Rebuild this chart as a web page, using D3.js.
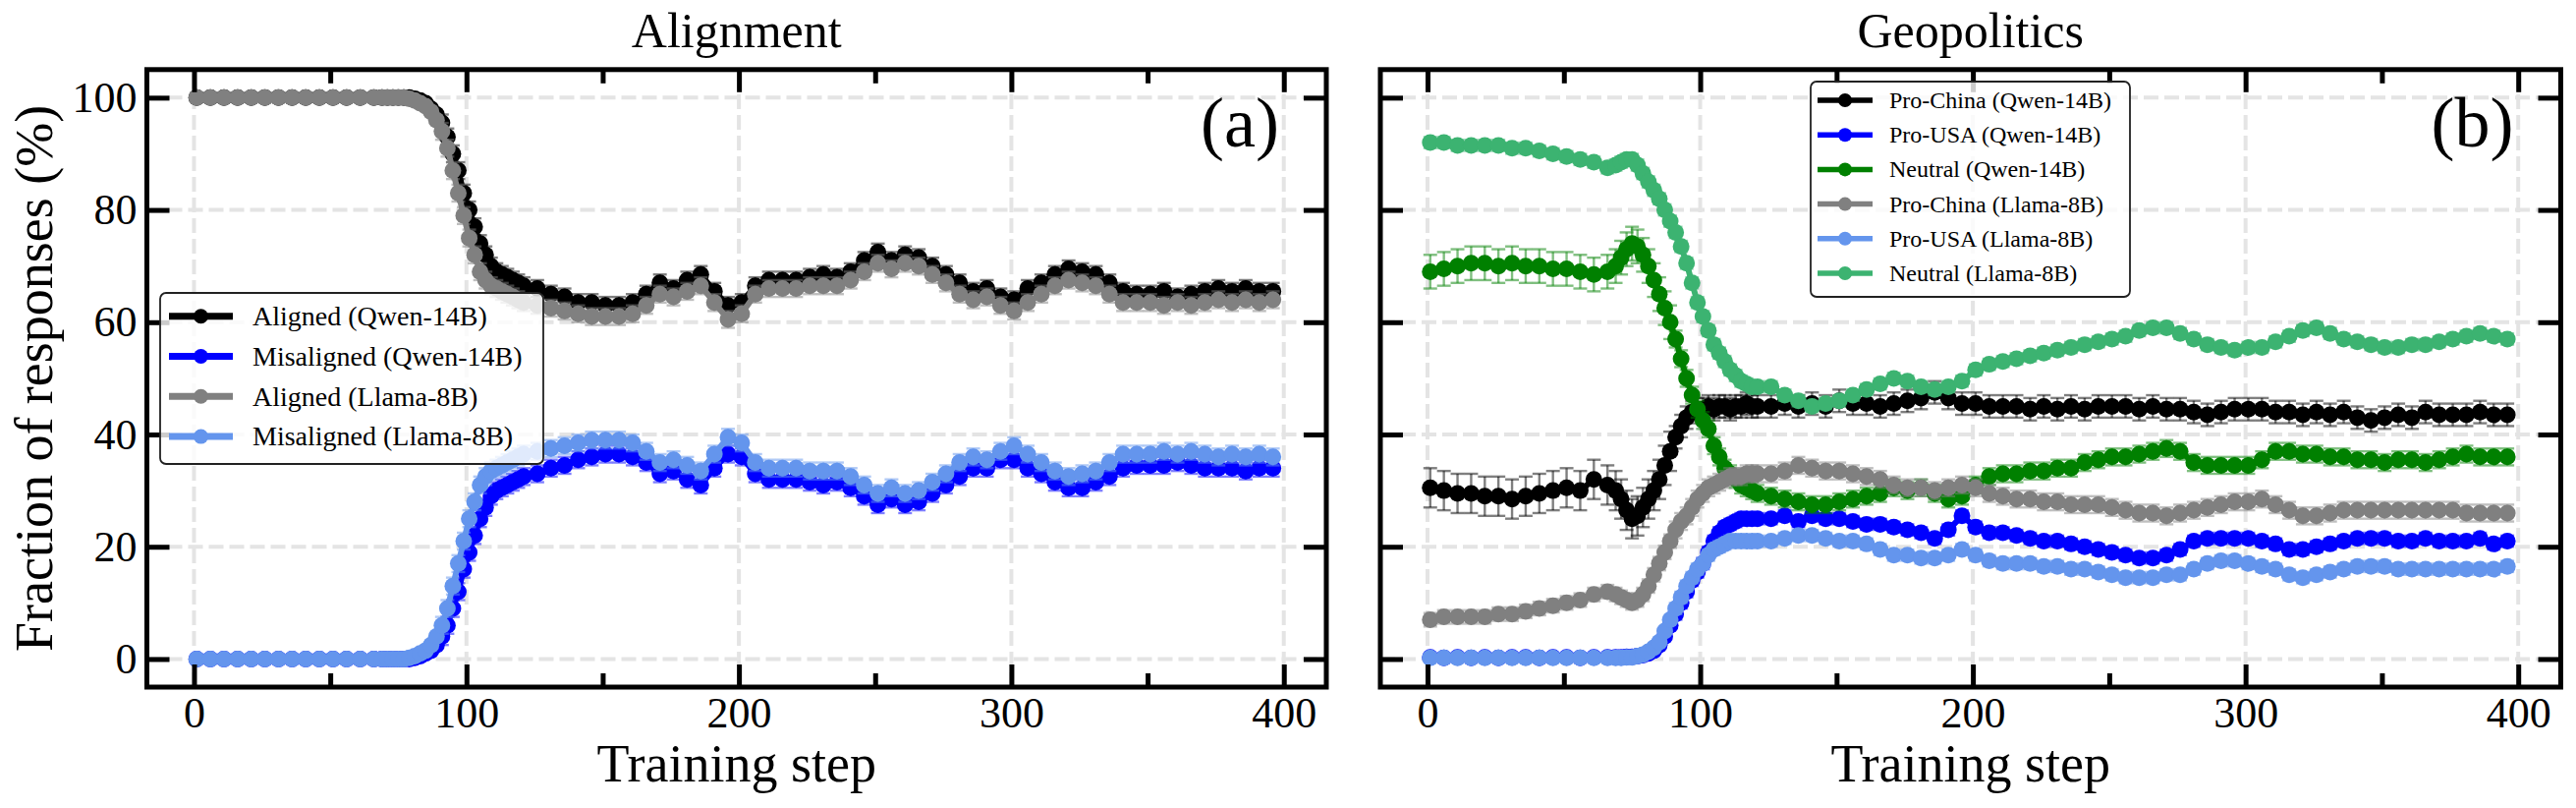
<!DOCTYPE html>
<html>
<head>
<meta charset="utf-8">
<script src="https://cdn.jsdelivr.net/npm/d3@7"></script>
<style>
  body { margin: 0; background: #fff; }
  text { font-family: "Liberation Serif", "Times New Roman", serif; fill: #000; }
</style>
</head>
<body>
<svg id="chart" width="2622" height="822" font-family="Liberation Serif, Times New Roman, serif"></svg>
<script>
// training steps at which values were read (denser through the transition)
var steps = [1,6,11,16,21,26,31,36,41,46,51,56,61,66,
  69,71,73,75,77,79,81,83,85,87,89,91,93,95,97,99,101,103,105,107,109,111,113,115,117,119,121,
  126,131,136,141,146,151,156,161,166,171,
  176,181,186,191,196,201,206,211,216,221,
  226,231,236,241,246,251,256,261,266,271,
  276,281,286,291,296,301,306,311,316,321,
  326,331,336,341,346,351,356,361,366,371,
  376,381,386,391,396];

// ---- panel (a) Alignment ----
var alignedQwen = [100,100,100,100,100,100,100,100,100,100,100,100,100,100,
  100,100,100,100,100,100,99.8,99.5,99,98,97,95.5,93,90,87,83,80,77,74,72,70,69,68.5,68,67.5,67,66.5,
  66,65,64.5,63.5,63.5,63,63,63.5,65,67,
  66,67.5,68.5,65.5,63,63.5,66.5,67.5,67.5,67.5,
  68,68.5,68,69,71,72.5,71,72,71.5,70,
  68.5,67,65.5,66,64.5,64,66,67,68.5,69.5,
  69,68.5,67,65.5,65,65,65.5,64.5,65,65.5,
  66,65.5,66,65.5,65.5];
var misalignedQwen = [0,0,0,0,0,0,0,0,0,0,0,0,0,0,
  0,0,0,0,0,0,0.2,0.5,1,1.5,2.5,4,6,9,12,16,19,22,25,27,29,30,30.5,31,31.5,32,32.5,
  33,34,34.5,35.5,36,36.5,36.5,36,35,33,
  33.5,32,31,34,36.5,36,33,32,32,32,
  31.5,31,31.5,30.5,29,27.5,28.5,27.5,28,29.5,
  31,32.5,34,34,35.5,35.5,34,33,31.5,30.5,
  30.5,31.5,32.5,34,34.5,34.5,34.5,35,34.5,34,
  34,34,33.5,34,34];
var alignedLlama = [100,100,100,100,100,100,100,100,100,100,100,100,100,100,
  100,100,100,100,100,99.8,99.5,99,98.5,97.5,96,94,91,87,83,79,75,72,69,67.5,66.5,66,65.5,65,64.5,64,63.5,
  63,62.5,62,61.5,61,61,61,61.5,63,65,
  64.5,65.5,66.5,63.5,60.5,61.5,65,66,66,66,
  66.5,66.5,66.5,67.5,69,70.5,69.5,70.5,70,68.5,
  67,65,64,64.5,63,62,63.5,65,66.5,67.5,
  67,66.5,65,63.5,63.5,63.5,63,63.5,63,63.5,
  64,63.5,64,63.5,64];
var misalignedLlama = [0,0,0,0,0,0,0,0,0,0,0,0,0,0,
  0,0,0,0,0,0.2,0.5,1,1.5,2.5,4,6,9,13,17,21,25,28,31,32.5,33.5,34,34.5,35,35.5,36,36.5,
  37,37.5,38,38.5,39,39,39,38.5,37,35,
  35.5,34.5,33.5,36.5,39.5,38.5,35,34,34,34,
  33.5,33.5,33.5,32.5,31,29.5,30.5,29.5,30,31.5,
  33,35,36,35.5,37,38,36.5,35,33.5,32.5,
  33,33.5,35,36.5,36.5,36.5,37,36.5,37,36.5,
  36,36.5,36,36.5,36];

// ---- panel (b) Geopolitics ----
var proChinaQwen = [30.5,30,29.5,29.5,29,29,28.5,29,29.5,30,30.5,30,32,31,
  30,28.5,26.5,25,25.5,27,28.5,30,32,34.5,37,39.5,41.5,43,44,44.5,44.5,45,44.5,45,45,44.5,45,45,45.5,45,45,
  45,45.5,45,45.5,45,46,45.5,45.5,45,45.5,
  46,46.5,47.5,46.5,45.5,45.5,45,45,45,44.5,
  45,44.5,45,44.5,45,45,45,44.5,45,44.5,
  44.5,44,43.5,44,44.5,44.5,44.5,44,44,43.5,
  44,43.5,44,43,42.5,43,43.5,43,44,43.5,
  43.5,43.5,44,43.5,43.5];
var proUSAQwen = [0.3,0.2,0.3,0.2,0.3,0.2,0.3,0.3,0.2,0.3,0.3,0.2,0.3,0.3,
  0.3,0.3,0.4,0.4,0.5,0.7,1,1.5,2.5,4,6,8,10,12,14,15.5,17,19,21,22.5,23.5,24,24.5,25,25,25,25,
  25,25.5,24.5,25.5,25,25,24.5,24,24,23.5,
  23,22.5,21.5,23,25.5,23.5,22.5,22.5,22,21.5,
  21,21,20.5,20,19.5,19,18.5,18,18,18.5,
  19.5,21,21.5,21.5,21.5,21.5,21,20.5,19.5,19.5,
  20,20.5,21,21.5,21.5,21.5,21,21,21.5,21,
  21,21,21.5,20.5,21];
var neutralQwen = [69,69.5,70,70.5,70.5,70,70.5,70,70,69.5,69.5,69,68.5,69,
  70,71.5,73,74,73.5,72,70,67.5,65,62.5,60,57,53.5,50,47,44.5,42.5,41,38,36,34,33,32,31,30.5,30,29.5,
  29,28.5,28,27.5,27.5,28,28.5,29,29.5,30.5,
  30,30.5,29.5,28.5,29,31,32.5,33,33,33.5,
  33.5,34,34,35,35.5,36,36,36.5,37,37.5,
  37,35,34.5,34.5,34.5,34.5,35.5,37,37,36.5,
  36.5,36,36,35.5,35.5,35,35.5,35.5,35,35.5,
  36,36.5,36,36,36];
var proChinaLlama = [7,7.5,7.5,7.5,7.5,8,8,8.5,9,9.5,10,10.5,11.5,12,
  11.5,11,10.5,10,10.5,11.5,13,15,17,19,21,23,24.5,25.5,27,28.5,29.5,30.5,31,31.5,32,32.5,32.5,32.5,33,33,33,
  33,33.5,34.5,34,33.5,33.5,33,32.5,32,31,
  30.5,30.5,30,30.5,31,30.5,29.5,29,28.5,28.5,
  28,28,27.5,27.5,27.5,27,26.5,26,26,25.5,
  26,26.5,27,27.5,28,28,28.5,27.5,26.5,25.5,
  25.5,26,26.5,26.5,26.5,26.5,26.5,26.5,26.5,26.5,
  26.5,26,26,26,26];
var proUSALlama = [0.2,0.2,0.2,0.2,0.2,0.2,0.2,0.2,0.2,0.2,0.2,0.2,0.2,0.2,
  0.2,0.2,0.3,0.3,0.5,0.8,1.3,2,3,5,7,9,11,13,14.5,16,17,18.5,19.5,20,20.5,21,21,21,21,21,21,
  21,21.5,22,22,21.5,21,21,20.5,19.5,18.5,
  18.5,18,18,18.5,19.5,18.5,17.5,17,17,17,
  16.5,16.5,16,16,15.5,15,14.5,14.5,14.5,15,
  15,16,17,17.5,17.5,17,16.5,16,15,14.5,
  15,15.5,16,16.5,16.5,16.5,16,16,16,16,
  16,16,16,16,16.5];
var neutralLlama = [92,92,91.5,91.5,91.5,91.5,91,91,90.5,90,89.5,89,88.5,87.5,
  88,88.5,89,89,88,86.5,85,83.5,82,80,78,76,73.5,70.5,67,63.5,61,58.5,56,54.5,53,51.5,50.5,49.5,49,48.5,48.5,
  48.5,47,46,45,45.5,46,47,48,49,50,
  49.5,48.5,48,48.5,49.5,51.5,52.5,53,53.5,54,
  54.5,55,55.5,56,56.5,57,57.5,58.5,59,59,
  58,57,56,55.5,55,55.5,55.5,56.5,57.5,58.5,
  59,58,57,56.5,56,55.5,55.5,56,56,56.5,
  57,57.5,58,57.5,57];

// error half-widths (before / after the transition step)
var errSplit = 90;
var alignErrEarly = [0.3, 0.3, 0.3, 0.3];
var alignErrLate = [1.5, 1.5, 1.5, 1.5];
var geoErrEarly = [3.5, 0.4, 3, 1.2, 0.3, 1];
var geoErrLate = [2, 1, 1.5, 1.5, 1, 1];

var alignLabels = ["Aligned (Qwen-14B)", "Misaligned (Qwen-14B)", "Aligned (Llama-8B)", "Misaligned (Llama-8B)"];
var alignColors = ["#000000", "#0000ff", "#808080", "#6495ed"];
var geoLabels = ["Pro-China (Qwen-14B)", "Pro-USA (Qwen-14B)", "Neutral (Qwen-14B)",
  "Pro-China (Llama-8B)", "Pro-USA (Llama-8B)", "Neutral (Llama-8B)"];
var geoColors = ["#000000", "#0000ff", "#008000", "#808080", "#6495ed", "#3cb371"];

var xMajor = [0, 100, 200, 300, 400];
var xMinor = [50, 150, 250, 350];
var yMajor = [0, 20, 40, 60, 80, 100];

var panels = [
  { title: "Alignment", tag: "(a)", x0: 149.5, x1: 1350, yLabels: true,
    series: [alignedQwen, misalignedQwen, alignedLlama, misalignedLlama],
    labels: alignLabels, colors: alignColors, errEarly: alignErrEarly, errLate: alignErrLate,
    legend: { x: 163, y: 298, w: 390, h: 174, row0: 321.7, rowStep: 40.8, lx0: 172, lx1: 237, tx: 257, fs: 28, lw: 7, r: 7.5 } },
  { title: "Geopolitics", tag: "(b)", x0: 1405, x1: 2606.5, yLabels: false,
    series: [proChinaQwen, proUSAQwen, neutralQwen, proChinaLlama, proUSALlama, neutralLlama],
    labels: geoLabels, colors: geoColors, errEarly: geoErrEarly, errLate: geoErrLate,
    legend: { x: 1843, y: 83, w: 325, h: 219, row0: 102, rowStep: 35.2, lx0: 1850, lx1: 1906, tx: 1923, fs: 24, lw: 5.5, r: 7 } }
];

var svg = d3.select("#chart");
var yTop = 70.8, yBot = 699;
var y = d3.scaleLinear().domain([-5, 105]).range([yBot, yTop]);

function drawPanel(p) {
  var x = d3.scaleLinear().domain([-17.3, 415.6]).range([p.x0, p.x1]);
  var g = svg.append("g");

  // dashed grid
  var grid = g.append("g").attr("stroke", "#e4e4e4").attr("stroke-width", 4).attr("stroke-dasharray", "15 6");
  grid.selectAll(".gx").data(xMajor).enter().append("line")
    .attr("x1", x).attr("x2", x).attr("y1", yBot).attr("y2", yTop);
  grid.selectAll(".gy").data(yMajor).enter().append("line")
    .attr("x1", p.x0).attr("x2", p.x1).attr("y1", y).attr("y2", y);

  // series: error bars, line, markers
  p.series.forEach(function(vals, i) {
    var col = p.colors[i];
    var pts = steps.map(function(st, k) {
      return { s: st, v: vals[k], e: st < errSplit ? p.errEarly[i] : p.errLate[i] };
    });
    var sg = g.append("g");
    var eb = sg.append("g").attr("stroke", col).attr("stroke-opacity", 0.5).attr("stroke-width", 2.4);
    eb.selectAll("line.v").data(pts).enter().append("line")
      .attr("x1", function(d) { return x(d.s); }).attr("x2", function(d) { return x(d.s); })
      .attr("y1", function(d) { return y(d.v - d.e); }).attr("y2", function(d) { return y(d.v + d.e); });
    [1, -1].forEach(function(sign) {
      eb.selectAll("line.c" + sign).data(pts).enter().append("line")
        .attr("x1", function(d) { return x(d.s) - 7; }).attr("x2", function(d) { return x(d.s) + 7; })
        .attr("y1", function(d) { return y(d.v + sign * d.e); }).attr("y2", function(d) { return y(d.v + sign * d.e); });
    });
    sg.append("path").datum(pts)
      .attr("fill", "none").attr("stroke", col).attr("stroke-width", 6)
      .attr("stroke-linejoin", "round")
      .attr("d", d3.line().x(function(d) { return x(d.s); }).y(function(d) { return y(d.v); }));
    sg.selectAll("circle").data(pts).enter().append("circle")
      .attr("cx", function(d) { return x(d.s); }).attr("cy", function(d) { return y(d.v); })
      .attr("r", 8.5).attr("fill", col);
  });

  // ticks on all four sides
  function styleAxis(a) {
    a.attr("font-family", null);
    a.select(".domain").remove();
    a.selectAll(".tick line").attr("stroke", "#000").attr("stroke-width", 5);
    a.selectAll("text").style("font-size", "44px").attr("fill", "#000");
  }
  g.append("g").attr("transform", "translate(0," + yBot + ")")
    .call(d3.axisBottom(x).tickValues(xMajor).tickSize(-23).tickPadding(10).tickFormat(d3.format("d"))).call(styleAxis);
  g.append("g").attr("transform", "translate(0," + yBot + ")")
    .call(d3.axisBottom(x).tickValues(xMinor).tickSize(-14).tickFormat("")).call(styleAxis);
  g.append("g").attr("transform", "translate(0," + yTop + ")")
    .call(d3.axisTop(x).tickValues(xMajor).tickSize(-23).tickFormat("")).call(styleAxis);
  g.append("g").attr("transform", "translate(0," + yTop + ")")
    .call(d3.axisTop(x).tickValues(xMinor).tickSize(-14).tickFormat("")).call(styleAxis);
  g.append("g").attr("transform", "translate(" + p.x0 + ",0)")
    .call(d3.axisLeft(y).tickValues(yMajor).tickSize(-23).tickPadding(10)
      .tickFormat(p.yLabels ? d3.format("d") : "")).call(styleAxis);
  g.append("g").attr("transform", "translate(" + p.x1 + ",0)")
    .call(d3.axisRight(y).tickValues(yMajor).tickSize(-23).tickFormat("")).call(styleAxis);

  // frame
  g.append("rect").attr("x", p.x0).attr("y", yTop).attr("width", p.x1 - p.x0).attr("height", yBot - yTop)
    .attr("fill", "none").attr("stroke", "#000").attr("stroke-width", 5);

  // title, x label, panel tag
  var cx = (p.x0 + p.x1) / 2;
  g.append("text").attr("x", cx).attr("y", 48).attr("text-anchor", "middle").style("font-size", "50px").text(p.title);
  g.append("text").attr("x", cx).attr("y", 795).attr("text-anchor", "middle").style("font-size", "54px").text("Training step");
  g.append("text").attr("x", p.x1 - 48).attr("y", 149).attr("text-anchor", "end").style("font-size", "72px").text(p.tag);

  // legend
  var L = p.legend;
  var lg = g.append("g");
  lg.append("rect").attr("x", L.x).attr("y", L.y).attr("width", L.w).attr("height", L.h).attr("rx", 6)
    .attr("fill", "#fff").attr("fill-opacity", 0.8).attr("stroke", "#222").attr("stroke-width", 1.8);
  p.labels.forEach(function(lab, i) {
    var ry = L.row0 + i * L.rowStep;
    lg.append("line").attr("x1", L.lx0).attr("x2", L.lx1).attr("y1", ry).attr("y2", ry)
      .attr("stroke", p.colors[i]).attr("stroke-width", L.lw);
    lg.append("circle").attr("cx", (L.lx0 + L.lx1) / 2).attr("cy", ry).attr("r", L.r).attr("fill", p.colors[i]);
    lg.append("text").attr("x", L.tx).attr("y", ry).attr("dy", "0.33em").style("font-size", L.fs + "px").text(lab);
  });
}

panels.forEach(drawPanel);

// shared y label
svg.append("text")
  .attr("transform", "translate(53," + ((yTop + yBot) / 2) + ") rotate(-90)")
  .attr("text-anchor", "middle").style("font-size", "54px")
  .text("Fraction of responses (%)");
</script>
</body>
</html>
